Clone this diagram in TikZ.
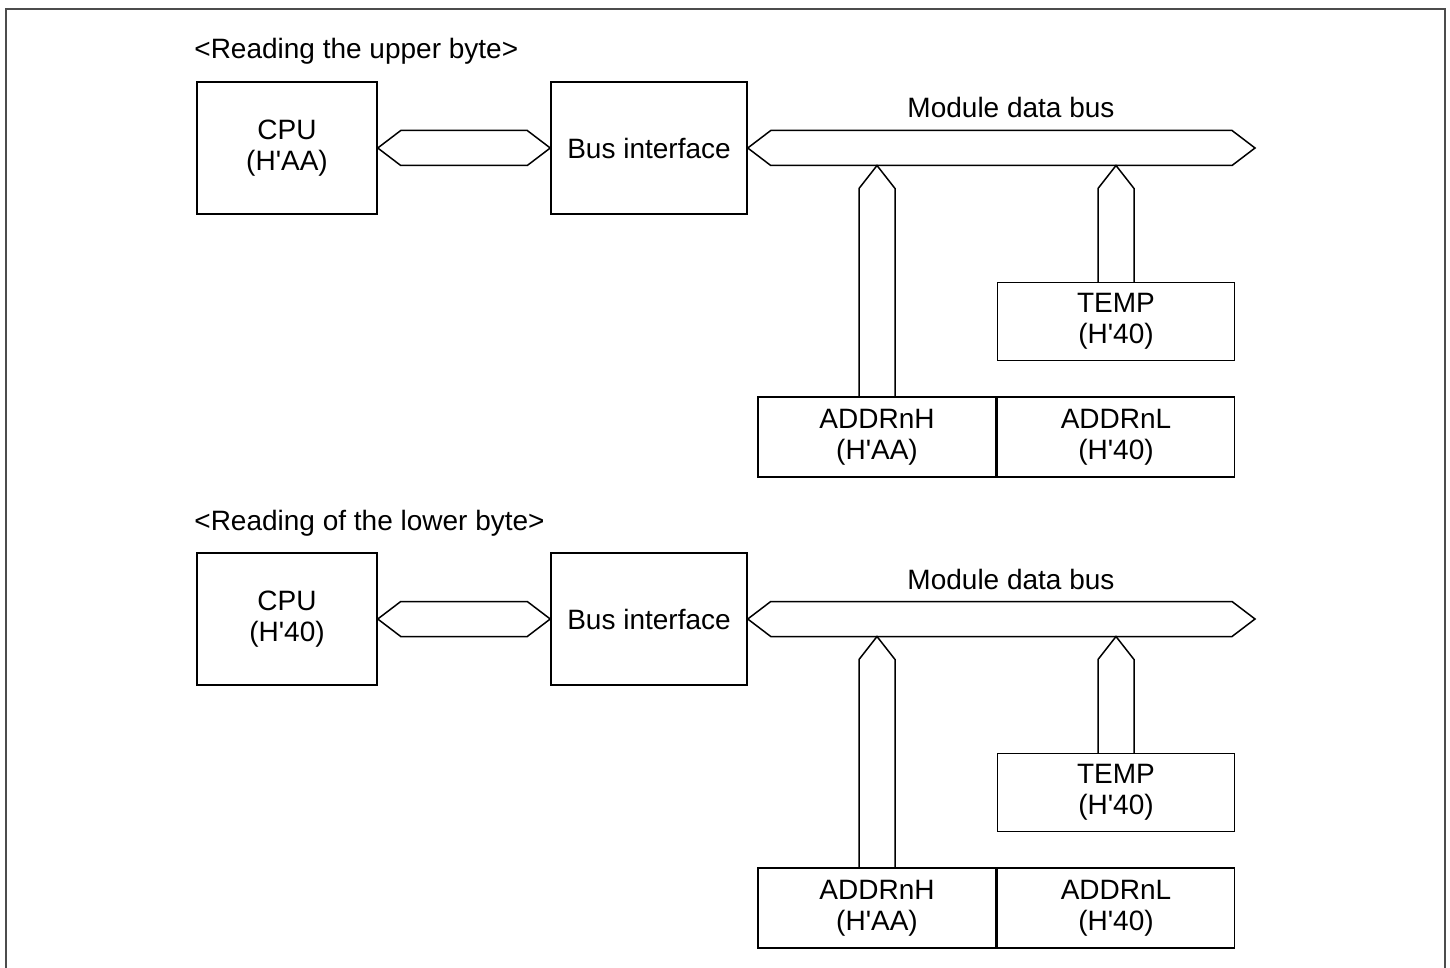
\documentclass[tikz,border=0pt]{standalone}
\usepackage{fontspec}
\setmainfont{Liberation Sans}[Ligatures=TeXOff]
\usetikzlibrary{calc,positioning}
\tikzset{
  regbox/.style={draw,line width=0.75pt,align=center,inner sep=0pt},
  buspath/.style={line width=0.75pt,line join=miter},
}
% horizontal bus between two tips, vertical stub from a box up to a tip
\newcommand{\hbus}[2]{\draw[buspath] (#1) -- ++(23,-17.5) -- ($(#2)+(-23,-17.5)$) -- (#2)
  -- ($(#2)+(-23,17.5)$) -- ($(#1)+(23,17.5)$) -- cycle;}
\newcommand{\vbus}[2]{\draw[buspath] ($(#1.north)+(-18,0)$) -- ($(#2)+(-18,23)$) -- (#2)
  -- ($(#2)+(18,23)$) -- ($(#1.north)+(18,0)$);}
\begin{document}
\begin{tikzpicture}[x=0.5pt,y=-0.5pt,line cap=round,font=\fontsize{14}{15.5}\selectfont]
  \useasboundingbox (0,0) rectangle (1450,968);
  \draw[line width=0.75pt,black!70] (6,968) -- (6,9) -- (1445,9) -- (1445,968);
  \foreach \i/\dy/\cpuval/\ttl in {1/0/H'AA/{<Reading the upper byte>},2/471/H'40/{<Reading of the lower byte>}}{
  \begin{scope}[shift={(0,\dy)}]
    \node[anchor=base west,inner sep=0pt] (title\i) at (194,59) {\ttl};
    \node[regbox,minimum width=90pt,minimum height=66pt] (cpu\i) at (287,148) {CPU\\(\cpuval)};
    \node[regbox,minimum width=98pt,minimum height=66pt] (bif\i) at (649,148) {Bus interface};
    \node[regbox,minimum width=119pt,minimum height=40pt] (addrh\i) at (877,437) {ADDRnH\\(H'AA)};
    \node[regbox,minimum width=118.5pt,minimum height=40pt,right=0pt of addrh\i] (addrl\i) {ADDRnL\\(H'40)};
    \node[regbox,minimum width=118.5pt,minimum height=39pt,above=17.5pt of addrl\i] (temp\i) {TEMP\\(H'40)};
    \coordinate (mdbend\i) at (1255,148);
    \node[anchor=base] (mdblabel\i) at (1011,118) {Module data bus};
    % buses
    \hbus{cpu\i.east}{bif\i.west}
    \hbus{bif\i.east}{mdbend\i}
    \coordinate (tiph\i) at ($(addrh\i.north |- mdbend\i)+(0,17.5)$);
    \coordinate (tipt\i) at ($(temp\i.north |- mdbend\i)+(0,17.5)$);
    \vbus{addrh\i}{tiph\i}
    \vbus{temp\i}{tipt\i}
  \end{scope}}
\end{tikzpicture}
\end{document}
